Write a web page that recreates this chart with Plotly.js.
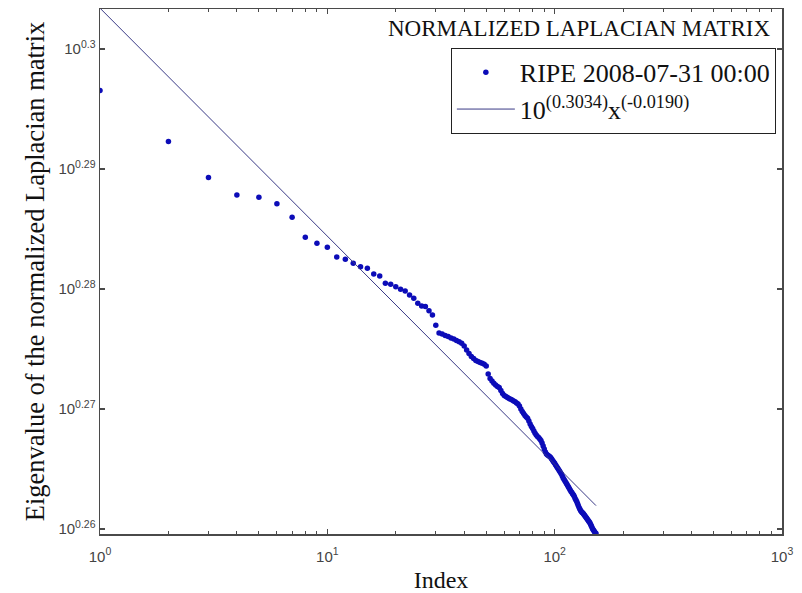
<!DOCTYPE html>
<html>
<head>
<meta charset="utf-8">
<script src="https://cdn.plot.ly/plotly-3.0.1.min.js"></script>
<style>
  html, body { margin: 0; padding: 0; background: #ffffff; }
  #chart { width: 802px; height: 593px; }
</style>
</head>
<body>
<div id="chart"></div>
<script>
// log10 of the eigenvalues of the normalized Laplacian matrix, sorted (index 1..152)
const log10Eigenvalue = [
  0.29653, 0.29228, 0.28928, 0.28783, 0.28764, 0.28711, 0.28598, 0.28431, 0.28381, 0.28348,
  0.28267, 0.28248, 0.28214, 0.28186, 0.28173, 0.28125, 0.28108, 0.28048, 0.28039, 0.28019,
  0.27998, 0.27983, 0.27950, 0.27923, 0.27881, 0.27858, 0.27853, 0.27819, 0.27783, 0.27698,
  0.27633, 0.27625, 0.27613, 0.27604, 0.27592, 0.27583, 0.27571, 0.27561, 0.27548, 0.27525,
  0.27492, 0.27463, 0.27438, 0.27421, 0.27404, 0.27396, 0.27388, 0.27381, 0.27373, 0.27358,
  0.27292, 0.27254, 0.27233, 0.27214, 0.27200, 0.27188, 0.27179, 0.27154, 0.27129, 0.27113,
  0.27104, 0.27096, 0.27088, 0.27081, 0.27075, 0.27067, 0.27061, 0.27050, 0.27042, 0.27025,
  0.27000, 0.26978, 0.26963, 0.26946, 0.26933, 0.26923, 0.26900, 0.26875, 0.26853, 0.26838,
  0.26817, 0.26798, 0.26783, 0.26771, 0.26763, 0.26750, 0.26738, 0.26717, 0.26692, 0.26667,
  0.26642, 0.26625, 0.26617, 0.26611, 0.26604, 0.26596, 0.26583, 0.26571, 0.26558, 0.26548,
  0.26533, 0.26521, 0.26508, 0.26496, 0.26483, 0.26471, 0.26458, 0.26442, 0.26425, 0.26413,
  0.26400, 0.26388, 0.26375, 0.26363, 0.26350, 0.26338, 0.26325, 0.26313, 0.26304, 0.26292,
  0.26283, 0.26271, 0.26254, 0.26242, 0.26228, 0.26213, 0.26196, 0.26179, 0.26167, 0.26154,
  0.26146, 0.26138, 0.26133, 0.26125, 0.26117, 0.26108, 0.26100, 0.26092, 0.26083, 0.26075,
  0.26067, 0.26058, 0.26050, 0.26038, 0.26025, 0.26013, 0.26000, 0.25992, 0.25983, 0.25975,
  0.25967, 0.25963
];

// power-law fit: 10^(0.3034) x^(-0.0190)
const fitLog10Coefficient = 0.3034;
const fitExponent = -0.0190;

const seriesName = "RIPE 2008-07-31 00:00";
const fitName = "10<sup>(0.3034)</sup>x<sup>(-0.0190)</sup>";
const chartLabel = "NORMALIZED LAPLACIAN MATRIX";

const xTickValues = [1, 10, 100, 1000];
const xTickLabels = ["10<sup>0</sup>", "10<sup>1</sup>", "10<sup>2</sup>", "10<sup>3</sup>"];
const yTickExponents = [0.26, 0.27, 0.28, 0.29, 0.30];
const yTickLabels = ["10<sup>0.26</sup>", "10<sup>0.27</sup>", "10<sup>0.28</sup>", "10<sup>0.29</sup>", "10<sup>0.3</sup>"];
const xMinorTicks = [2,3,4,5,6,7,8,9,20,30,40,50,60,70,80,90,200,300,400,500,600,700,800,900];

const indices = log10Eigenvalue.map((_, i) => i + 1);
const eigenvalues = log10Eigenvalue.map(e => Math.pow(10, e));
const fitX = [indices[0], indices[indices.length - 1]];
const fitY = fitX.map(x => Math.pow(10, fitLog10Coefficient) * Math.pow(x, fitExponent));

const traces = [
  {
    x: indices, y: eigenvalues, type: "scatter", mode: "markers", name: seriesName,
    marker: { color: "#0c0cb8", size: 5.5, symbol: "circle", line: { width: 0 } }
  },
  {
    x: fitX, y: fitY, type: "scatter", mode: "lines", name: fitName,
    line: { color: "#3a3a86", width: 1 }
  }
];

const axisColor = "#4a4a4a";
const tickFont = { family: "Liberation Sans, Arial, sans-serif", size: 15, color: "#444444" };
const serif = "Liberation Serif, Times New Roman, serif";

const layout = {
  width: 802, height: 593,
  margin: { l: 100, r: 20, t: 9, b: 59 },
  paper_bgcolor: "#ffffff", plot_bgcolor: "#ffffff",
  showlegend: true,
  xaxis: {
    type: "log", range: [0, 3],
    tickmode: "array", tickvals: xTickValues, ticktext: xTickLabels,
    ticks: "inside", ticklen: 5, tickwidth: 1.2, tickcolor: axisColor,
    minor: { tickmode: "array", tickvals: xMinorTicks, ticks: "inside", ticklen: 3, tickwidth: 1, tickcolor: axisColor, showgrid: false },
    showline: true, linecolor: axisColor, linewidth: 1.5, mirror: "ticks",
    showgrid: false, zeroline: false, tickfont: tickFont, ticklabelstandoff: 8,
    title: { text: "Index", font: { family: serif, size: 24, color: "#111111" }, standoff: 8 }
  },
  yaxis: {
    type: "log", range: [0.25958, 0.30333],
    tickmode: "array", tickvals: yTickExponents.map(e => Math.pow(10, e)), ticktext: yTickLabels,
    ticks: "inside", ticklen: 5, tickwidth: 1.2, tickcolor: axisColor,
    showline: true, linecolor: axisColor, linewidth: 1.5, mirror: "ticks",
    showgrid: false, zeroline: false, tickfont: tickFont,
    title: { text: "Eigenvalue of the normalized Laplacian matrix", font: { family: serif, size: 26.5, color: "#111111" }, standoff: 6 }
  },
  legend: {
    x: 0.991, xanchor: "right", y: 0.926, yanchor: "top",
    bgcolor: "#ffffff", bordercolor: "#222222", borderwidth: 1,
    font: { family: serif, size: 26, color: "#111111" },
    itemwidth: 58, tracegroupgap: 0
  },
  annotations: [
    {
      text: chartLabel, xref: "paper", yref: "paper",
      x: 0.985, xanchor: "right", y: 0.962, yanchor: "middle",
      showarrow: false, font: { family: serif, size: 23, color: "#111111" }
    }
  ]
};

Plotly.newPlot("chart", traces, layout, { staticPlot: true, displayModeBar: false });
</script>
</body>
</html>
